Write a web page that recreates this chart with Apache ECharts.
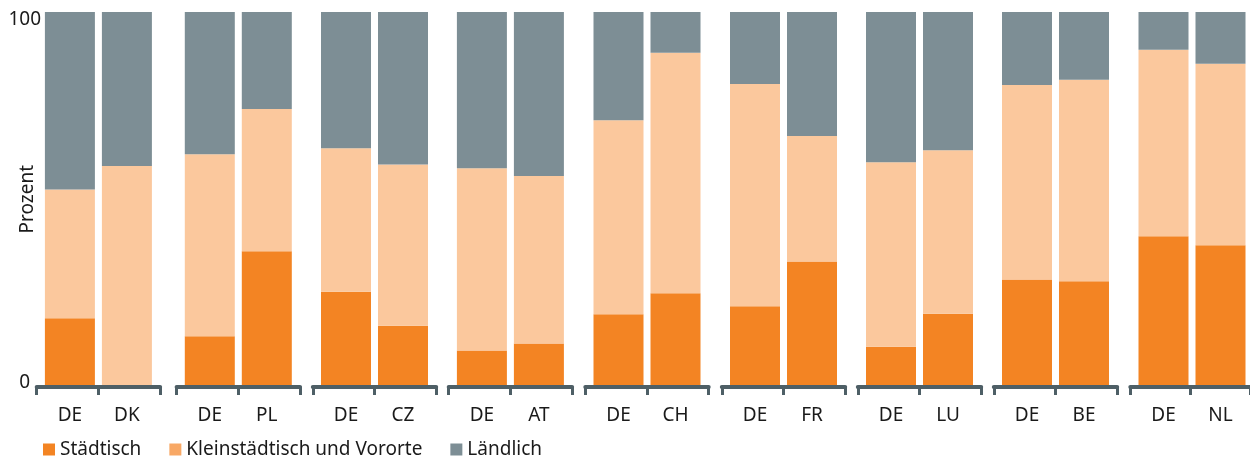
<!DOCTYPE html>
<html><head><meta charset="utf-8">
<script src="https://cdn.jsdelivr.net/npm/echarts@6/dist/echarts.min.js"></script>
<style>html,body{margin:0;padding:0;background:#fff}#c{width:1250px;height:461px}</style>
</head><body><div id="c"></div>
<script>
// ---- data ----
const categories = ['DE','DK','DE','PL','DE','CZ','DE','AT','DE','CH','DE','FR','DE','LU','DE','BE','DE','NL'];
const staedtisch      = [18.2, 0.0, 13.4, 36.1, 25.3, 16.2,  9.6, 11.5, 19.3, 24.9, 21.4, 33.4, 10.6, 19.4, 28.6, 28.1, 40.1, 37.7];
const kleinstaedtisch = [34.4, 58.9, 48.6, 38.0, 38.3, 43.1, 48.7, 44.7, 51.8, 64.2, 59.4, 33.5, 49.3, 43.7, 51.9, 53.8, 49.8, 48.5];
const laendlich       = [47.4, 41.1, 38.0, 25.9, 36.4, 40.7, 41.7, 43.8, 28.9, 10.9, 19.2, 33.1, 40.1, 36.9, 19.5, 18.1, 10.1, 13.8];
const seriesNames = ['Städtisch', 'Kleinstädtisch und Vororte', 'Ländlich'];
const yTickLabels = [0, 100];

// ---- style / layout ----
const C_URBAN = '#F38423', C_SUB = '#FBC89D', C_SUB_LEG = '#F8A865', C_RURAL = '#7D8E95', C_AXIS = '#4E5F66', C_TEXT = '#1a1a1a';
const FONT = 'Noto Sans', FS = 19;
const groupMid = [98.4, 238.3, 374.5, 510.4, 647, 783.5, 919.5, 1055.5, 1192];
const catW = 57, axisHalf = 61.7, plotTop = 12, plotH = 374.5;

const grids = [], xAxes = [], yAxes = [], series = [];
const values = [staedtisch, kleinstaedtisch, laendlich];
const colors = [C_URBAN, C_SUB, C_RURAL];

groupMid.forEach((mid, g) => {
  const cats = categories.slice(2 * g, 2 * g + 2);
  const bi = grids.length;
  grids.push({ left: mid - catW, width: 2 * catW, top: plotTop, height: plotH });
  const ai = grids.length;
  grids.push({ left: mid - axisHalf, width: 2 * axisHalf, top: plotTop, height: plotH });

  // bar grid axes
  xAxes.push({
    type: 'category', gridIndex: bi, data: cats,
    axisLine: { show: false }, axisTick: { show: false },
    axisLabel: { margin: 20, fontSize: FS, color: C_TEXT, fontFamily: FONT }
  });
  yAxes.push({ type: 'value', gridIndex: bi, min: 0, max: 100, show: false });

  // axis-line grid
  xAxes.push({
    type: 'category', gridIndex: ai, data: ['', ''], z: 5,
    axisLine: { show: true, lineStyle: { color: C_AXIS, width: 4 } },
    axisTick: { show: true, length: 8.5, lineStyle: { color: C_AXIS, width: 3 } },
    axisLabel: { show: false }
  });
  if (g === 0) {
    // top label (100)
    yAxes.push({
      type: 'value', gridIndex: ai, position: 'left', min: 0, max: 100, interval: 100,
      axisLine: { show: false }, axisTick: { show: false }, splitLine: { show: false },
      name: 'Prozent', nameLocation: 'middle', nameGap: 0, nameMoveOverlap: false,
      nameTextStyle: { fontSize: FS, color: C_TEXT, fontFamily: FONT },
      axisLabel: {
        align: 'center', margin: 12, verticalAlign: 'top', lineHeight: 16,
        fontSize: FS, color: C_TEXT, fontFamily: FONT,
        formatter: v => (v === yTickLabels[1] ? String(v) : '')
      }
    });
    // bottom label (0)
    yAxes.push({
      type: 'value', gridIndex: ai, position: 'left', offset: 0, min: 0, max: 100, interval: 100,
      axisLine: { show: false }, axisTick: { show: false }, splitLine: { show: false },
      axisLabel: {
        align: 'center', margin: 12, verticalAlign: 'bottom', lineHeight: 8,
        fontSize: FS, color: C_TEXT, fontFamily: FONT,
        formatter: v => (v === yTickLabels[0] ? String(v) : '')
      }
    });
  } else {
    yAxes.push({ type: 'value', gridIndex: ai, min: 0, max: 100, show: false });
  }

  seriesNames.forEach((name, s) => {
    series.push({
      type: 'bar', name, stack: 'g' + g, xAxisIndex: bi, yAxisIndex: yAxes.findIndex(a => a.gridIndex === bi),
      barWidth: 50, itemStyle: { color: colors[s] },
      data: values[s].slice(2 * g, 2 * g + 2)
    });
  });
});

const chart = echarts.init(document.getElementById('c'), null, { renderer: 'canvas' });
chart.setOption({
  animation: false,
  backgroundColor: '#fff',
  grid: grids, xAxis: xAxes, yAxis: yAxes, series,
  legend: {
    left: 43, top: 440, padding: 0, icon: 'rect', itemWidth: 12, itemHeight: 12, itemGap: 28,
    textStyle: { fontSize: FS, color: C_TEXT, fontFamily: FONT },
    data: [
      { name: seriesNames[0], itemStyle: { color: C_URBAN } },
      { name: seriesNames[1], itemStyle: { color: C_SUB_LEG } },
      { name: seriesNames[2], itemStyle: { color: C_RURAL } }
    ]
  }
});
</script></body></html>
